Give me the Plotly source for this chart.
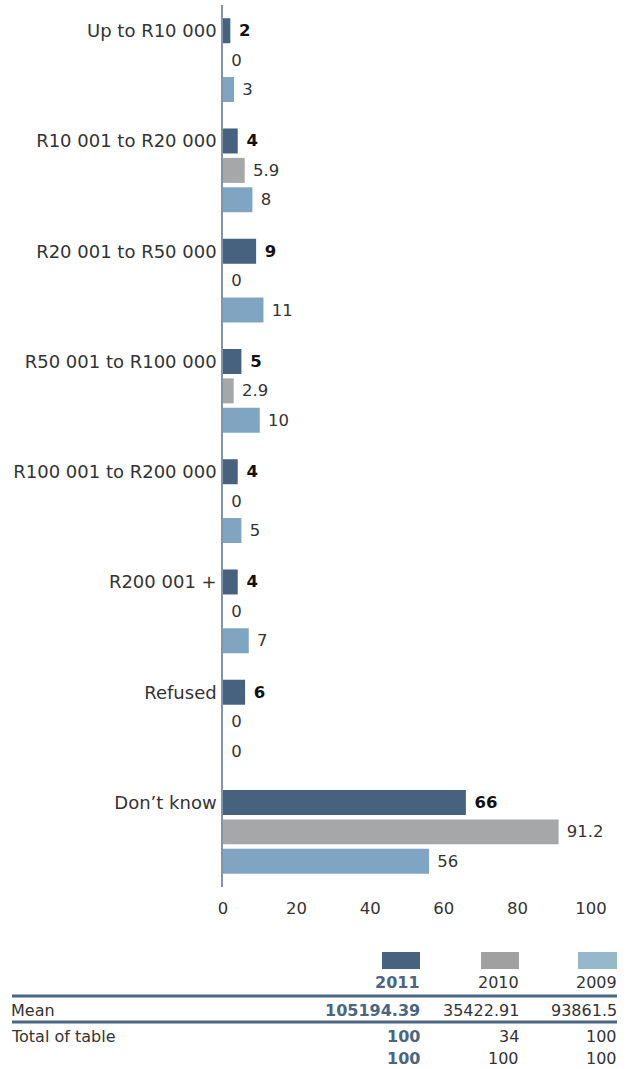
import plotly.graph_objects as go

categories = ["Up to R10 000", "R10 001 to R20 000", "R20 001 to R50 000",
              "R50 001 to R100 000", "R100 001 to R200 000", "R200 001 +",
              "Refused", "Don\u2019t know"]
years = ["2011", "2010", "2009"]
v2011 = [2, 4, 9, 5, 4, 4, 6, 66]
v2010 = [0, 5.9, 0, 2.9, 0, 0, 0, 91.2]
v2009 = [3, 8, 11, 10, 5, 7, 0, 56]
means = ["105194.39", "35422.91", "93861.5"]
totals = ["100", "34", "100"]
bases = ["100", "100", "100"]

bar_colors = ["#46627e", "#a6a7a9", "#7fa5c3"]
swatch_colors = ["#46627e", "#a0a0a0", "#95b8cd"]

FONT = "DejaVu Sans"
FS = 16.5
FS_CAT = 18
FS_TAB = 16
W, H = 628, 1069
X0, X1, Y0, Y1 = 223, 591, 5, 887


def px(x):
    return (x - X0) / (X1 - X0)


def py(y):
    return (Y1 - y) / (Y1 - Y0)


idx = list(range(len(categories)))
fig = go.Figure()
series = [v2011, v2010, v2009]
for k, (yr, vals) in enumerate(zip(years, series)):
    bold = k == 0
    fig.add_trace(go.Bar(
        y=idx, x=vals, orientation="h", name=yr,
        marker=dict(color=bar_colors[k], line=dict(width=0)),
        text=[f"\u00a0{v}" for v in vals], textposition="outside",
        cliponaxis=False,
        textfont=dict(family=FONT, size=FS,
                      color="#111111" if bold else "#333333",
                      weight="bold" if bold else "normal"),
        showlegend=False,
    ))

fig.update_layout(
    width=W, height=H,
    margin=dict(l=X0, r=W - X1, t=Y0, b=H - Y1),
    paper_bgcolor="white", plot_bgcolor="white",
    barmode="group", bargap=0.2, bargroupgap=0.15,
    font=dict(family=FONT, size=FS, color="#333333"),
    showlegend=False,
    uniformtext=dict(mode=False),
)
fig.update_xaxes(range=[0, 100], tickvals=[0, 20, 40, 60, 80, 100],
                 showgrid=False, zeroline=False, showline=False, ticks="",
                 ticklabelstandoff=9,
                 tickfont=dict(family=FONT, size=FS, color="#333333"))
fig.update_yaxes(range=[len(categories) - 0.5, -0.5],
                 tickvals=[i - 0.2667 for i in idx], ticktext=categories,
                 showgrid=False, zeroline=False, showline=True,
                 linecolor="#8393a8", linewidth=1.5, ticks="",
                 ticklabelstandoff=1,
                 tickfont=dict(family=FONT, size=FS_CAT, color="#333333"))

# legend swatches and table
swx = [(382, 420), (481, 519), (578, 617)]
for k, (a, b) in enumerate(swx):
    fig.add_shape(type="rect", xref="paper", yref="paper",
                  x0=px(a), x1=px(b), y0=py(969), y1=py(952),
                  fillcolor=swatch_colors[k], line=dict(width=0))
for yline in (996, 1022):
    fig.add_shape(type="line", xref="paper", yref="paper",
                  x0=px(12), x1=px(617), y0=py(yline), y1=py(yline),
                  line=dict(color="#4a6680", width=3))


def ann(text, x, y, anchor="right", bold=False, color="#333333"):
    fig.add_annotation(xref="paper", yref="paper", x=px(x), y=py(y),
                       text=text, showarrow=False, xanchor=anchor,
                       yanchor="middle", xshift=0,
                       font=dict(family=FONT, size=FS_TAB, color=color,
                                 weight="bold" if bold else "normal"))


for k, (a, b) in enumerate(swx):
    c = "#4a6680" if k == 0 else "#333333"
    ann(years[k], b + 2, 983, bold=k == 0, color=c)
    ann(means[k], b + 2, 1010, bold=k == 0, color=c)
    ann(totals[k], b + 2, 1036, bold=k == 0, color=c)
    ann(bases[k], b + 2, 1058, bold=k == 0, color=c)
ann("Mean", 9, 1010, anchor="left")
ann("Total of table", 9, 1036, anchor="left")

fig.write_html("out.html", config={"displayModeBar": False},
               post_script="document.body.style.margin='0px';")
